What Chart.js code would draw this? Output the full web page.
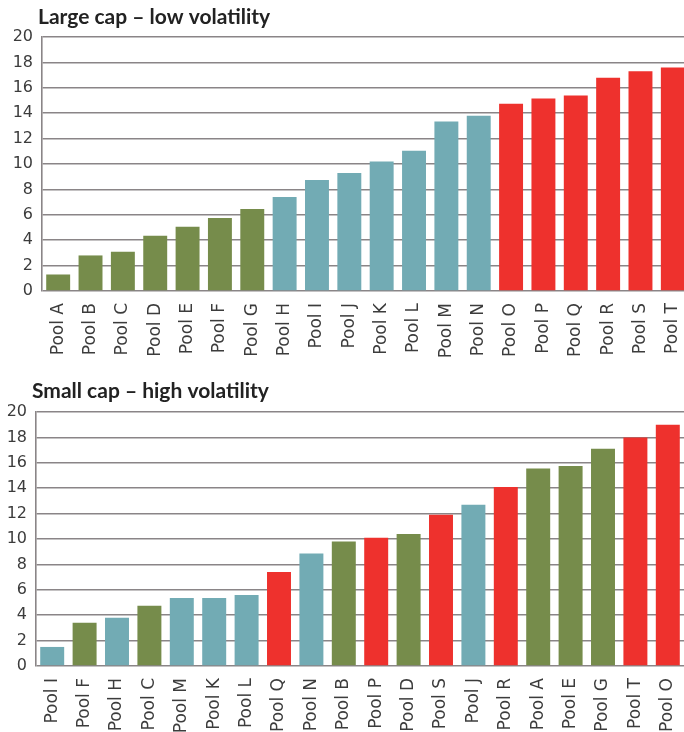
<!DOCTYPE html>
<html>
<head>
<meta charset="utf-8">
<script src="https://cdn.jsdelivr.net/npm/chart.js@4.4.1/dist/chart.umd.min.js"></script>
<style>
  html, body { margin: 0; padding: 0; background: #ffffff; overflow: hidden; }
  #page { position: relative; width: 684px; height: 732px; overflow: hidden; }
  .panel { position: absolute; left: 0; overflow: hidden; }
  #top { top: 0; width: 684px; height: 362px; }
  #bottom { top: 375px; width: 684px; height: 357px; }
</style>
</head>
<body>
<div id="page">
  <div class="panel" id="top"><canvas id="largeCap" width="689" height="361"></canvas></div>
  <div class="panel" id="bottom"><canvas id="smallCap" width="684" height="361"></canvas></div>
</div>
<script>
// Large cap, low volatility: pools ranked by value
const largeCapPools = ['Pool A', 'Pool B', 'Pool C', 'Pool D', 'Pool E', 'Pool F', 'Pool G',
  'Pool H', 'Pool I', 'Pool J', 'Pool K', 'Pool L', 'Pool M', 'Pool N',
  'Pool O', 'Pool P', 'Pool Q', 'Pool R', 'Pool S', 'Pool T'];
const largeCapValues = [1.3, 2.8, 3.1, 4.35, 5.05, 5.75, 6.45,
  7.4, 8.75, 9.3, 10.2, 11.05, 13.35, 13.8,
  14.75, 15.15, 15.4, 16.8, 17.3, 17.6];

// Small cap, high volatility: same pools, re-ranked
const smallCapPools = ['Pool I', 'Pool F', 'Pool H', 'Pool C', 'Pool M', 'Pool K', 'Pool L',
  'Pool Q', 'Pool N', 'Pool B', 'Pool P', 'Pool D', 'Pool S', 'Pool J',
  'Pool R', 'Pool A', 'Pool E', 'Pool G', 'Pool T', 'Pool O'];
const smallCapValues = [1.5, 3.4, 3.8, 4.75, 5.35, 5.35, 5.6,
  7.4, 8.85, 9.8, 10.1, 10.4, 11.9, 12.7,
  14.1, 15.55, 15.75, 17.1, 18.0, 19.0];

// Pool groups (membership keeps its colour in both rankings)
const greenPools = ['Pool A', 'Pool B', 'Pool C', 'Pool D', 'Pool E', 'Pool F', 'Pool G'];
const tealPools = ['Pool H', 'Pool I', 'Pool J', 'Pool K', 'Pool L', 'Pool M', 'Pool N'];
const redPools = ['Pool O', 'Pool P', 'Pool Q', 'Pool R', 'Pool S', 'Pool T'];

const yTicks = [0, 2, 4, 6, 8, 10, 12, 14, 16, 18, 20];

const GREEN = '#768c4b';
const TEAL = '#72abb4';
const RED = '#ee312d';
const GRID = '#8a8587';
const TEXT = '#3c3c3c';

function poolColour(name) {
  if (greenPools.includes(name)) return GREEN;
  if (tealPools.includes(name)) return TEAL;
  return RED;
}

// Heading drawn just left of the plot area, above the top gridline
const headingPlugin = {
  id: 'heading',
  afterDraw(chart, args, opts) {
    const ctx = chart.ctx;
    ctx.save();
    ctx.font = 'bold 21px Lato';
    ctx.fillStyle = '#222222';
    ctx.textAlign = 'left';
    ctx.textBaseline = 'alphabetic';
    ctx.fillText(opts.text, chart.chartArea.left + opts.dx, opts.baseline);
    ctx.restore();
  }
};

function makeChart(id, title, pools, values, axisWidth, headingDx, baseline) {
  return new Chart(document.getElementById(id), {
    type: 'bar',
    data: {
      labels: pools,
      datasets: [{
        data: values,
        backgroundColor: pools.map(poolColour),
        borderWidth: 0,
        barPercentage: 0.74,
        categoryPercentage: 1.0
      }]
    },
    plugins: [headingPlugin],
    options: {
      responsive: false,
      animation: false,
      events: [],
      layout: { padding: { left: 0, right: 0, top: 37, bottom: 0 } },
      plugins: {
        legend: { display: false },
        tooltip: { enabled: false },
        title: { display: false },
        heading: { text: title, dx: headingDx, baseline: baseline }
      },
      scales: {
        x: {
          grid: { display: false },
          border: { display: false },
          ticks: {
            color: TEXT,
            font: { family: 'DejaVu Sans', size: 17 },
            minRotation: 90,
            maxRotation: 90,
            autoSkip: false,
            padding: 4
          },
          afterFit: (scale) => {
            scale.height = 70;
            scale.paddingLeft = 0;
            scale.paddingRight = 0;
          }
        },
        y: {
          min: 0,
          max: 20,
          afterBuildTicks: (scale) => { scale.ticks = yTicks.map(v => ({ value: v })); },
          grid: { color: GRID, lineWidth: 1.6, drawTicks: false },
          border: { display: true, color: GRID, width: 1.6 },
          ticks: {
            color: TEXT,
            font: { family: 'DejaVu Sans', size: 16 },
            padding: 9
          },
          afterFit: (scale) => {
            scale.width = axisWidth;
            scale.paddingTop = 0;
            scale.paddingBottom = 0;
          }
        }
      }
    }
  });
}

makeChart('largeCap', 'Large cap – low volatility', largeCapPools, largeCapValues, 42, -4, 24);
makeChart('smallCap', 'Small cap – high volatility', smallCapPools, smallCapValues, 36, -4, 23);
</script>
</body>
</html>
